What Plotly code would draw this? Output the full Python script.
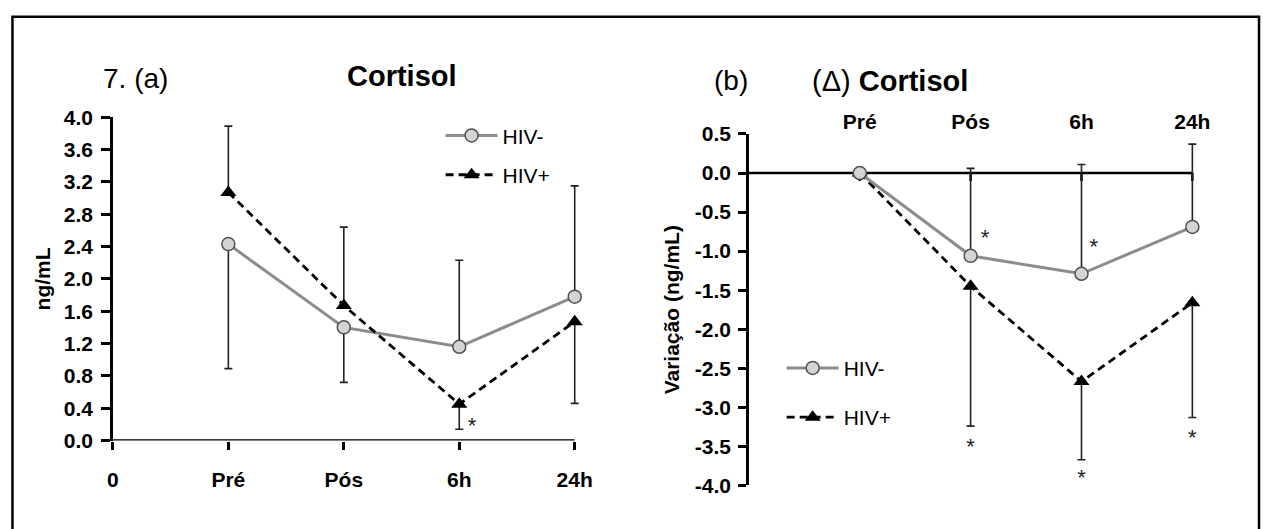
import plotly.graph_objects as go

FONT = "Liberation Sans, Arial, sans-serif"

# ---------------- data ----------------
x_pos = [0, 1, 2, 3, 4]
x_labels_a = ["0", "Pré", "Pós", "6h", "24h"]
x_labels_b = ["Pré", "Pós", "6h", "24h"]
pts = [1, 2, 3, 4]

# Panel (a) Cortisol (ng/mL)
neg_a = [2.43, 1.40, 1.16, 1.78]
pos_a = [3.07, 1.67, 0.45, 1.47]
neg_a_up = [0, 0, 1.07, 1.37]
neg_a_dn = [1.54, 0.68, 0, 0]
pos_a_up = [0.82, 0.97, 0, 0]
pos_a_dn = [0, 0, 0.31, 1.01]
star_a_x = [3.11]
star_a_y = [0.16]

# Panel (b) delta Cortisol
neg_b = [0.0, -1.06, -1.29, -0.69]
pos_b = [0.0, -1.45, -2.67, -1.66]
neg_b_up = [0, 1.12, 1.40, 1.06]
neg_b_dn = [0, 0, 0, 0]
pos_b_up = [0, 0, 0, 0]
pos_b_dn = [0, 1.79, 1.00, 1.47]
star_b_x = [2.13, 3.11, 2.0, 3.0, 4.0]
star_b_y = [-0.85, -0.97, -3.53, -3.92, -3.41]

yticks_a = [round(0.4 * i, 1) for i in range(11)]
yticks_b = [0.5, 0.0, -0.5, -1.0, -1.5, -2.0, -2.5, -3.0, -3.5, -4.0]

# ---------------- styles ----------------
NEG_LINE = dict(color="#8c8c8c", width=3)
NEG_MARK = dict(symbol="circle", size=13, color="#d4d4d4", line=dict(color="#505050", width=1.5))
POS_LINE = dict(color="black", width=2.8, dash="8px,5px")
POS_MARK = dict(symbol="triangle-up", size=14, color="black", line=dict(color="black", width=0))
ERR = dict(color="#222222", thickness=1.6, width=4)

fig = go.Figure()

def err_trace(x, y, up, dn, xa, ya):
    fig.add_trace(go.Scatter(
        x=x, y=y, mode="markers", marker=dict(size=1, opacity=0),
        error_y=dict(type="data", symmetric=False, array=up, arrayminus=dn, **ERR),
        xaxis=xa, yaxis=ya, showlegend=False, hoverinfo="skip", cliponaxis=False))

err_trace(pts, neg_a, neg_a_up, neg_a_dn, "x", "y")
err_trace(pts, pos_a, pos_a_up, pos_a_dn, "x", "y")
err_trace(pts, neg_b, neg_b_up, neg_b_dn, "x2", "y2")
err_trace(pts, pos_b, pos_b_up, pos_b_dn, "x2", "y2")

fig.add_trace(go.Scatter(x=pts, y=neg_a, name="HIV-", mode="lines+markers", line=NEG_LINE,
                         marker=NEG_MARK, xaxis="x", yaxis="y", legend="legend",
                         legendgroup="a1", legendrank=1, cliponaxis=False))
fig.add_trace(go.Scatter(x=pts, y=pos_a, name="HIV+", mode="lines+markers", line=POS_LINE,
                         marker=POS_MARK, xaxis="x", yaxis="y", legend="legend",
                         legendgroup="a2", legendrank=2, cliponaxis=False))
fig.add_trace(go.Scatter(x=pts, y=pos_b, name="HIV+", mode="lines+markers", line=POS_LINE,
                         marker=POS_MARK, xaxis="x2", yaxis="y2", legend="legend2",
                         legendgroup="b2", legendrank=2, cliponaxis=False))
fig.add_trace(go.Scatter(x=pts, y=neg_b, name="HIV-", mode="lines+markers", line=NEG_LINE,
                         marker=NEG_MARK, xaxis="x2", yaxis="y2", legend="legend2",
                         legendgroup="b1", legendrank=1, cliponaxis=False))

STAR_FONT = dict(family=FONT, size=22, color="#222222")
fig.add_trace(go.Scatter(x=star_a_x, y=star_a_y, mode="text", text=["*"] * len(star_a_x),
                         textfont=STAR_FONT, xaxis="x", yaxis="y", showlegend=False,
                         hoverinfo="skip", cliponaxis=False))
fig.add_trace(go.Scatter(x=star_b_x, y=star_b_y, mode="text", text=["*"] * len(star_b_x),
                         textfont=STAR_FONT, xaxis="x2", yaxis="y2", showlegend=False,
                         hoverinfo="skip", cliponaxis=False))

W, H = 1263, 529
def px(v):
    return v / W
def py(v):
    return 1 - v / H

BOLD = "bold"

fig.update_layout(
    width=W, height=H, margin=dict(l=0, r=0, t=0, b=0),
    paper_bgcolor="white", plot_bgcolor="white",
    font=dict(family=FONT, color="black"),
    xaxis=dict(domain=[px(107.5), px(589.3)], range=[0, 4.15], anchor="y",
               tickmode="array", tickvals=x_pos, ticktext=x_labels_a,
               ticks="outside", ticklen=8, tickwidth=2.5, tickcolor="black",
               showline=False, showgrid=False, zeroline=False,
               tickfont=dict(family=FONT, size=21, color="black", weight=BOLD),
               ticklabelstandoff=12),
    yaxis=dict(domain=[py(448), py(110)], range=[0, 4], anchor="x",
               tickmode="array", tickvals=yticks_a, ticktext=[f"{v:.1f}" for v in yticks_a],
               ticks="outside", ticklen=9, tickwidth=2.5, tickcolor="black",
               showline=True, linewidth=2.5, linecolor="black",
               showgrid=False, zeroline=False,
               tickfont=dict(family=FONT, size=21, color="black", weight=BOLD),
               ticklabelstandoff=4,
               title=dict(text="ng/mL", font=dict(family=FONT, size=21, color="black", weight=BOLD),
                          standoff=8)),
    xaxis2=dict(domain=[px(747), px(1209.7)], range=[0, 4.15], anchor="y2", side="top",
                tickmode="array", tickvals=pts, ticktext=x_labels_b,
                ticks="", showline=False, showgrid=False, zeroline=False,
                tickfont=dict(family=FONT, size=21, color="black", weight=BOLD)),
    yaxis2=dict(domain=[py(495), py(127.5)], range=[-4, 0.5], anchor="x2",
                tickmode="array", tickvals=yticks_b, ticktext=[f"{v:.1f}" for v in yticks_b],
                ticks="outside", ticklen=8, tickwidth=2.5, tickcolor="black",
                showline=True, linewidth=2.5, linecolor="black",
                showgrid=False, zeroline=False,
                tickfont=dict(family=FONT, size=21, color="black", weight=BOLD),
                ticklabelstandoff=3,
                title=dict(text="Variação (ng/mL)",
                           font=dict(family=FONT, size=21, color="black", weight=BOLD),
                           standoff=10)),
    legend=dict(x=px(437), y=py(108), xanchor="left", yanchor="top",
                bgcolor="rgba(0,0,0,0)", font=dict(family=FONT, size=21, color="black"),
                itemwidth=52, traceorder="grouped", tracegroupgap=9),
    legend2=dict(x=px(780), y=py(351), xanchor="left", yanchor="top",
                 bgcolor="rgba(0,0,0,0)", font=dict(family=FONT, size=21, color="black"),
                 itemwidth=52, traceorder="grouped", tracegroupgap=19),
    showlegend=True,
)

# axis baselines ending at the last category
fig.add_shape(type="line", xref="x", yref="y", x0=x_pos[0], x1=x_pos[-1], y0=0, y1=0,
              line=dict(color="black", width=2.5), layer="below")
fig.add_shape(type="line", xref="x2", yref="y2", x0=x_pos[0], x1=x_pos[-1], y0=0, y1=0,
              line=dict(color="black", width=2.5), layer="below")
for xv in pts:
    fig.add_shape(type="line", xref="x2", yref="y2", x0=xv, x1=xv, ysizemode="pixel",
                  yanchor=0, y0=0, y1=-8, line=dict(color="black", width=2.5), layer="below")

# frame
fig.add_shape(type="rect", xref="paper", yref="paper", x0=px(6.5), x1=px(1260),
              y0=-0.05, y1=py(5), line=dict(color="black", width=2.5),
              fillcolor="rgba(0,0,0,0)", layer="above")

TITLE = dict(family=FONT, size=29, color="black")
fig.add_annotation(text="7. (a)", x=px(96), y=py(51), xref="paper", yref="paper",
                   showarrow=False, font=dict(family=FONT, size=28, color="black"))
fig.add_annotation(text="<b>Cortisol</b>", x=px(341), y=py(48), xref="paper", yref="paper",
                   showarrow=False, font=TITLE)
fig.add_annotation(text="(b)", x=px(729), y=py(53), xref="paper", yref="paper",
                   showarrow=False, font=dict(family=FONT, size=28, color="black"))
fig.add_annotation(text="(Δ) <b>Cortisol</b>", x=px(969), y=py(53), xref="paper", yref="paper",
                   showarrow=False, font=TITLE)

fig.write_html("out.html", config={"displayModeBar": False},
               post_script="document.body.style.margin='0px';")
